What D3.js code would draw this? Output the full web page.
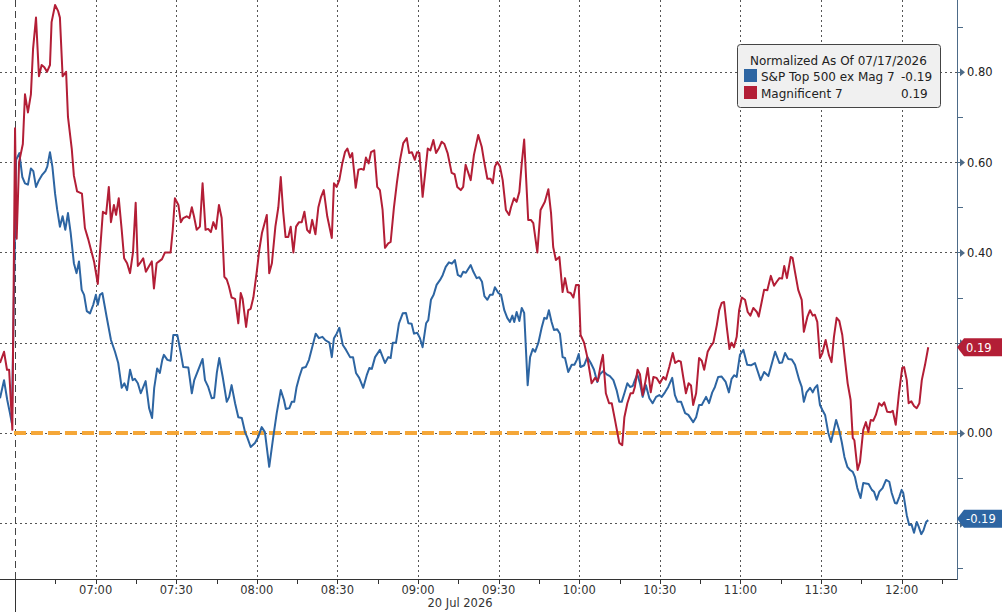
<!DOCTYPE html>
<html>
<head>
<meta charset="utf-8">
<script src="https://cdn.jsdelivr.net/npm/d3@7"></script>
<style>
  html, body { margin: 0; padding: 0; background: #fff; }
  svg { display: block; font-family: "DejaVu Sans", sans-serif; }
</style>
</head>
<body>
<svg id="chart" width="1002" height="612"></svg>
<script>
// ---- Dados: [minutos desde 06:00, valor normalizado]
const spxExMag7 = [
  [24.4,0.077],[25.9,0.117],[27.1,0.073],[28.1,0.044],[28.8,0.022],[30.4,0.605],[31.6,0.62],[32.7,0.567],[33.7,0.553],[34.8,0.55],
  [35.9,0.586],[36.8,0.58],[37.8,0.545],[38.9,0.56],[40.0,0.571],[41.3,0.58],[42.0,0.59],[43.0,0.622],[43.9,0.59],[44.9,0.53],
  [45.7,0.494],[46.7,0.457],[47.7,0.48],[48.7,0.45],[49.7,0.487],[50.7,0.443],[51.9,0.376],[52.9,0.354],[53.8,0.38],[54.8,0.317],
  [55.7,0.306],[56.7,0.27],[57.9,0.265],[59.1,0.284],[60.1,0.306],[60.8,0.284],[61.6,0.306],[62.5,0.31],[64.1,0.257],[65.7,0.206],
  [67.2,0.18],[68.4,0.155],[69.7,0.10],[70.7,0.11],[71.7,0.095],[72.8,0.14],[73.8,0.117],[74.6,0.12],[75.7,0.11],[76.8,0.088],
  [78.6,0.115],[79.9,0.055],[81.0,0.033],[81.8,0.10],[82.9,0.143],[83.9,0.133],[84.8,0.162],[85.4,0.173],[86.7,0.162],[87.9,0.16],
  [88.9,0.217],[90.4,0.217],[91.7,0.177],[92.6,0.146],[94.5,0.145],[95.8,0.088],[96.7,0.117],[98.2,0.14],[99.8,0.164],[100.7,0.117],
  [101.9,0.102],[103.2,0.077],[104.1,0.078],[105.1,0.133],[106.0,0.166],[107.3,0.124],[108.8,0.069],[109.7,0.08],[110.6,0.106],[111.9,0.066],
  [113.1,0.035],[114.4,0.033],[115.6,0.002],[116.4,-0.009],[117.7,-0.031],[119.3,-0.022],[120.5,-0.009],[121.8,0.013],[123.0,0.002],[124.6,-0.075],
  [126.1,-0.009],[127.4,0.044],[128.9,0.095],[130.1,0.073],[130.8,0.053],[132.1,0.055],[133.0,0.069],[133.9,0.069],[134.8,0.102],[135.8,0.124],
  [136.9,0.144],[138.2,0.146],[139.4,0.162],[140.6,0.19],[141.9,0.22],[143.1,0.21],[144.4,0.213],[145.4,0.206],[147.0,0.20],[147.9,0.168],
  [148.7,0.21],[149.7,0.22],[150.7,0.233],[152.0,0.195],[153.2,0.184],[154.7,0.168],[155.8,0.168],[156.9,0.133],[158.1,0.122],[159.6,0.10],
  [160.9,0.128],[161.9,0.144],[162.8,0.142],[164.0,0.168],[165.8,0.184],[167.7,0.155],[168.9,0.168],[169.8,0.166],[170.6,0.20],[171.8,0.20],
  [172.9,0.243],[174.3,0.265],[175.5,0.266],[176.4,0.243],[177.6,0.242],[178.5,0.22],[179.7,0.222],[180.7,0.21],[181.7,0.19],[183.0,0.243],
  [183.8,0.25],[184.8,0.295],[185.8,0.306],[186.9,0.328],[188.2,0.339],[189.2,0.35],[190.3,0.368],[191.5,0.378],[192.6,0.375],[193.7,0.383],
  [194.8,0.35],[195.9,0.346],[196.8,0.357],[197.8,0.355],[199.6,0.372],[200.6,0.357],[201.8,0.343],[202.8,0.345],[203.8,0.335],[204.7,0.303],
  [205.8,0.295],[206.8,0.306],[207.8,0.306],[208.6,0.323],[209.9,0.31],[210.9,0.306],[212.1,0.272],[213.2,0.255],[214.2,0.246],[215.1,0.26],
  [215.8,0.246],[216.7,0.268],[217.7,0.248],[218.6,0.277],[219.5,0.266],[220.8,0.106],[221.7,0.168],[222.7,0.186],[223.6,0.18],[224.8,0.20],
  [226.0,0.233],[227.0,0.255],[227.9,0.253],[228.7,0.272],[229.7,0.246],[230.6,0.228],[231.8,0.23],[232.8,0.22],[233.8,0.168],[234.7,0.166],
  [235.9,0.135],[237.2,0.151],[238.2,0.151],[239.1,0.162],[239.8,0.175],[240.5,0.146],[241.8,0.15],[243.0,0.168],[244.3,0.155],[245.5,0.14],
  [246.7,0.113],[247.7,0.13],[248.9,0.137],[250.2,0.13],[251.4,0.126],[252.7,0.117],[253.9,0.095],[254.9,0.069],[255.8,0.069],[256.8,0.088],
  [257.9,0.11],[258.9,0.102],[259.9,0.104],[260.7,0.117],[261.6,0.13],[262.6,0.11],[263.6,0.08],[264.8,0.106],[266.1,0.077],[267.3,0.066],
  [268.6,0.08],[269.8,0.084],[270.7,0.08],[271.9,0.09],[273.1,0.102],[274.6,0.122],[275.6,0.084],[276.6,0.069],[277.9,0.069],[279.4,0.044],
  [280.6,0.04],[282.4,0.024],[283.5,0.035],[284.6,0.062],[285.6,0.062],[287.2,0.08],[288.3,0.066],[289.5,0.09],[290.5,0.102],[291.7,0.124],
  [293.0,0.125],[294.5,0.113],[295.7,0.09],[296.7,0.12],[297.7,0.128],[298.6,0.124],[299.8,0.173],[301.1,0.184],[302.5,0.151],[303.9,0.15],
  [305.4,0.155],[307.5,0.117],[308.8,0.135],[310.4,0.126],[312.9,0.18],[314.5,0.155],[315.5,0.156],[316.6,0.177],[317.8,0.164],[319.1,0.163],
  [320.3,0.151],[321.9,0.117],[322.8,0.102],[323.6,0.069],[324.6,0.09],[325.9,0.10],[326.9,0.09],[327.7,0.10],[328.6,0.106],[329.6,0.062],
  [330.5,0.051],[331.5,0.04],[332.7,0.0],[333.7,-0.02],[334.6,0.002],[335.6,0.029],[336.7,0.007],[337.7,-0.02],[338.7,-0.053],[339.8,-0.075],
  [340.8,-0.082],[341.8,-0.086],[342.6,-0.097],[343.5,-0.122],[344.7,-0.144],[345.7,-0.111],[346.7,-0.112],[347.7,-0.113],[348.9,-0.126],[349.7,-0.13],
  [350.7,-0.148],[351.7,-0.13],[352.9,-0.122],[354.2,-0.104],[355.4,-0.108],[356.3,-0.133],[357.5,-0.155],[358.2,-0.156],[359.1,-0.142],[360.0,-0.126],
  [360.6,-0.133],[361.9,-0.182],[362.8,-0.204],[363.7,-0.203],[364.6,-0.221],[365.6,-0.197],[366.3,-0.207],[367.3,-0.224],[368.1,-0.216],[369.1,-0.197],
  [369.9,-0.193]
];

const magnificent7 = [
  [24.4,0.155],[25.9,0.18],[27.0,0.14],[27.8,0.14],[29.0,0.007],[30.0,0.675],[30.6,0.43],[31.5,0.60],[32.9,0.64],[33.7,0.75],
  [34.8,0.71],[35.9,0.75],[36.7,0.85],[37.8,0.92],[38.9,0.79],[39.9,0.815],[40.9,0.81],[41.9,0.80],[43.0,0.815],[43.6,0.91],
  [44.9,0.948],[46.0,0.935],[46.7,0.92],[47.7,0.79],[49.0,0.80],[49.7,0.70],[51.1,0.63],[51.9,0.57],[53.1,0.535],[54.9,0.53],
  [56.0,0.454],[57.2,0.43],[58.3,0.405],[59.4,0.38],[60.8,0.33],[61.6,0.40],[62.7,0.49],[63.9,0.485],[64.9,0.545],[65.7,0.467],
  [66.8,0.505],[67.6,0.483],[68.6,0.52],[69.7,0.45],[70.6,0.387],[71.7,0.376],[72.8,0.354],[73.9,0.40],[74.9,0.51],[75.7,0.37],
  [76.5,0.376],[77.7,0.387],[78.7,0.357],[79.9,0.37],[80.9,0.38],[81.7,0.32],[82.7,0.376],[83.6,0.38],[84.7,0.385],[85.8,0.40],
  [86.7,0.40],[87.9,0.40],[88.7,0.45],[89.5,0.52],[90.8,0.505],[91.7,0.467],[92.6,0.476],[93.9,0.48],[94.9,0.476],[95.8,0.50],
  [96.6,0.48],[97.6,0.45],[98.8,0.457],[99.8,0.553],[100.9,0.45],[101.9,0.452],[102.9,0.445],[103.8,0.467],[104.8,0.452],[105.9,0.505],
  [106.9,0.476],[107.9,0.346],[108.8,0.34],[109.6,0.325],[110.6,0.30],[111.9,0.297],[113.1,0.243],[114.0,0.31],[114.7,0.297],[116.0,0.235],
  [116.8,0.272],[117.7,0.275],[118.7,0.30],[119.9,0.354],[120.9,0.405],[121.9,0.443],[123.7,0.483],[124.6,0.354],[125.6,0.376],[126.9,0.457],
  [128.0,0.50],[128.9,0.567],[129.8,0.49],[130.7,0.434],[131.7,0.434],[132.6,0.457],[133.6,0.40],[134.6,0.457],[135.7,0.467],[136.7,0.467],
  [137.7,0.49],[138.7,0.45],[139.7,0.443],[140.6,0.472],[141.8,0.44],[142.9,0.50],[143.9,0.523],[144.9,0.538],[146.2,0.48],[147.9,0.432],
  [148.7,0.553],[149.7,0.545],[150.7,0.56],[151.8,0.597],[152.8,0.622],[153.7,0.63],[154.7,0.61],[155.5,0.62],[156.8,0.543],[157.8,0.583],
  [158.8,0.585],[159.8,0.583],[160.6,0.61],[161.6,0.597],[162.5,0.622],[163.7,0.626],[164.8,0.545],[165.8,0.538],[166.8,0.494],[167.7,0.41],
  [168.9,0.42],[169.8,0.423],[171.0,0.498],[172.1,0.553],[173.3,0.605],[174.5,0.642],[175.8,0.653],[176.7,0.62],[177.7,0.622],[178.8,0.605],
  [179.6,0.622],[180.5,0.62],[181.7,0.523],[182.7,0.578],[183.6,0.63],[184.6,0.626],[185.7,0.649],[186.7,0.62],[187.7,0.63],[188.8,0.645],
  [189.8,0.64],[191.0,0.62],[192.5,0.576],[193.6,0.573],[194.6,0.545],[195.9,0.538],[196.8,0.545],[197.7,0.594],[199.6,0.56],[200.8,0.616],
  [202.4,0.66],[203.7,0.634],[204.5,0.605],[205.8,0.563],[207.0,0.563],[207.8,0.553],[208.6,0.59],[209.5,0.60],[210.5,0.59],[211.5,0.56],
  [212.7,0.494],[213.9,0.483],[214.6,0.50],[215.7,0.52],[216.7,0.512],[217.7,0.534],[218.6,0.597],[219.5,0.65],[221.0,0.472],[222.0,0.472],
  [222.9,0.465],[224.4,0.40],[225.6,0.494],[227.2,0.512],[228.5,0.54],[229.5,0.487],[230.3,0.412],[231.3,0.383],[232.6,0.39],[233.8,0.312],
  [234.7,0.343],[235.7,0.312],[236.8,0.31],[237.8,0.30],[238.8,0.328],[239.8,0.328],[240.5,0.217],[241.8,0.20],[243.0,0.168],[244.6,0.11],
  [245.9,0.122],[246.9,0.115],[248.1,0.155],[248.8,0.173],[249.9,0.088],[251.1,0.066],[252.1,0.066],[253.3,0.029],[254.9,-0.022],[256.0,-0.027],
  [256.8,0.035],[257.9,0.066],[259.1,0.088],[260.0,0.088],[260.7,0.102],[261.7,0.14],[262.6,0.13],[263.6,0.084],[264.5,0.11],[265.5,0.144],
  [266.6,0.09],[267.6,0.124],[268.8,0.122],[270.0,0.11],[271.3,0.124],[272.2,0.118],[273.5,0.146],[274.8,0.177],[275.7,0.155],[276.9,0.16],
  [277.8,0.158],[278.7,0.124],[279.7,0.088],[280.7,0.11],[281.6,0.105],[282.4,0.062],[283.5,0.088],[284.6,0.166],[285.6,0.16],[286.5,0.14],
  [287.8,0.18],[288.7,0.19],[289.9,0.20],[291.2,0.239],[292.1,0.272],[293.0,0.288],[293.9,0.29],[294.9,0.235],[295.9,0.186],[296.7,0.20],
  [297.6,0.19],[298.6,0.213],[299.5,0.272],[300.5,0.30],[301.7,0.295],[302.7,0.268],[303.7,0.26],[304.8,0.277],[306.1,0.268],[306.8,0.258],
  [307.9,0.29],[308.8,0.317],[310.0,0.316],[311.3,0.348],[312.5,0.326],[313.5,0.335],[314.5,0.343],[315.5,0.342],[316.3,0.37],[317.3,0.343],
  [318.7,0.39],[319.4,0.388],[320.3,0.357],[321.5,0.317],[322.8,0.295],[323.6,0.224],[324.9,0.257],[325.9,0.272],[326.9,0.26],[327.7,0.262],
  [328.6,0.246],[329.6,0.166],[330.5,0.177],[331.7,0.206],[332.9,0.173],[333.9,0.157],[334.8,0.213],[335.8,0.255],[336.8,0.248],[337.9,0.217],
  [338.9,0.162],[339.9,0.11],[341.0,0.073],[341.8,-0.011],[342.4,-0.016],[343.6,-0.082],[344.5,-0.064],[345.7,0.007],[346.7,0.024],[347.6,0.002],
  [348.5,0.029],[349.4,0.027],[350.4,0.04],[351.6,0.066],[352.6,0.06],[353.5,0.068],[354.6,0.047],[355.9,0.046],[356.7,0.049],[357.8,0.018],
  [359.0,0.088],[360.2,0.144],[360.9,0.146],[361.9,0.117],[362.6,0.066],[363.6,0.07],[364.6,0.06],[365.6,0.055],[366.6,0.066],[367.5,0.117],
  [368.7,0.151],[369.9,0.19]
];

const legendTitle = 'Normalized As Of 07/17/2026';
const legendNames = ['S&P Top 500 ex Mag 7', 'Magnificent 7'];
const legendValues = [-0.19, 0.19];
const seriesColors = ['#2d65a2', '#b31e36'];
const yGridValues = [-0.2, 0, 0.2, 0.4, 0.6, 0.8];
const dateLabel = '20 Jul 2026';

// ---- Dimensões
const plotW = 957, plotH = 579;
const toTime = m => new Date(2026, 6, 20, 6, 0, 0, 0).getTime() + m * 60000;
const fmt = v => v.toFixed(2);

const svg = d3.select('#chart');
svg.append('rect').attr('width', 1002).attr('height', 612).attr('fill', '#fff');

// ---- Escalas
const x = d3.scaleTime().domain([toTime(24.4), toTime(380.6)]).range([0, plotW]);
const y = d3.scaleLinear().domain([-0.3234, 0.959]).range([plotH, 0]);
const crisp = v => Math.round(v) + 0.5;

// ---- Grade
const g = svg.append('g').attr('id', 'group');

g.selectAll('line.hgrid').data(yGridValues).join('line')
  .attr('class', 'hgrid')
  .attr('x1', 0).attr('x2', plotW)
  .attr('y1', d => crisp(y(d))).attr('y2', d => crisp(y(d)))
  .style('stroke', '#555').style('stroke-width', 1).style('stroke-dasharray', '2,3');

const halfHours = d3.timeMinute.every(30).range(new Date(toTime(60)), new Date(toTime(361)));
g.selectAll('line.vgrid').data(halfHours).join('line')
  .attr('class', 'vgrid')
  .attr('x1', d => crisp(x(d))).attr('x2', d => crisp(x(d)))
  .attr('y1', 0).attr('y2', plotH)
  .style('stroke', '#555').style('stroke-width', 1).style('stroke-dasharray', '2,3');

// ---- Separador de sessão (06:30)
const sessionX = crisp(x(toTime(30)));
g.append('line')
  .attr('x1', sessionX).attr('x2', sessionX).attr('y1', 0).attr('y2', plotH)
  .style('stroke', '#444').style('stroke-width', 1).style('stroke-dasharray', '7,4');
g.append('line')
  .attr('x1', sessionX).attr('x2', sessionX).attr('y1', plotH).attr('y2', 612)
  .style('stroke', '#333').style('stroke-width', 1);

// ---- Linha de referência (0.00)
g.append('line')
  .attr('x1', x(toTime(29.6))).attr('x2', plotW)
  .attr('y1', y(0)).attr('y2', y(0))
  .style('stroke', '#f5a738').style('stroke-width', 4).style('stroke-dasharray', '12,5');

// ---- Linhas
const line = d3.line().x(d => x(toTime(d[0]))).y(d => y(d[1]));
g.selectAll('path.line').data([spxExMag7, magnificent7]).join('path')
  .attr('class', 'line')
  .attr('d', line)
  .style('fill', 'none')
  .style('stroke', (d, i) => seriesColors[i])
  .style('stroke-width', 2)
  .style('stroke-linejoin', 'round');

// ---- Eixo X
const axisX = svg.append('g').attr('id', 'axisX');
axisX.append('line')
  .attr('x1', 0).attr('x2', plotW).attr('y1', plotH + 0.5).attr('y2', plotH + 0.5)
  .style('stroke', '#333');
const quarterHours = d3.timeMinute.every(15).range(new Date(toTime(45)), new Date(toTime(376)));
axisX.selectAll('line.tick').data(quarterHours).join('line')
  .attr('class', 'tick')
  .attr('x1', d => crisp(x(d))).attr('x2', d => crisp(x(d)))
  .attr('y1', plotH).attr('y2', plotH + 5)
  .style('stroke', '#333');
axisX.selectAll('text.tick').data(halfHours).join('text')
  .attr('class', 'tick')
  .attr('x', d => x(d)).attr('y', plotH + 15)
  .attr('text-anchor', 'middle')
  .style('font-size', '11.5px').style('fill', '#333')
  .text(d3.timeFormat('%H:%M'));
axisX.append('text')
  .attr('x', 460).attr('y', 607)
  .attr('text-anchor', 'middle')
  .style('font-size', '11.5px').style('fill', '#333')
  .text(dateLabel);

// ---- Eixo Y (direita)
const axisColor = '#4d6b88';
const axisY = svg.append('g').attr('id', 'axisY');
axisY.append('line')
  .attr('x1', plotW + 0.5).attr('x2', plotW + 0.5).attr('y1', 0).attr('y2', plotH + 1)
  .style('stroke', axisColor);
const yTicks = d3.range(-3, 10).map(k => k / 10);
axisY.selectAll('line.tick').data(yTicks).join('line')
  .attr('class', 'tick')
  .attr('x1', plotW).attr('x2', plotW + 6)
  .attr('y1', d => crisp(y(d))).attr('y2', d => crisp(y(d)))
  .style('stroke', axisColor);
axisY.selectAll('path.arrow').data(yGridValues).join('path')
  .attr('class', 'arrow')
  .attr('d', d => `M${plotW + 3},${y(d) - 3.5}L${plotW + 8},${y(d) + 0.5}L${plotW + 3},${y(d) + 4.5}Z`)
  .style('fill', axisColor);
// rótulos encobertos pelas etiquetas de último valor ficam de fora
const visibleLabels = yGridValues.filter(v => legendValues.every(t => Math.abs(t - v) > 0.05));
axisY.selectAll('text.tick').data(visibleLabels).join('text')
  .attr('class', 'tick')
  .attr('x', plotW + 10).attr('y', d => y(d) + 4.5)
  .style('font-size', '11.5px').style('fill', '#222')
  .text(fmt);

// ---- Etiquetas de último valor
const tags = svg.append('g').attr('id', 'tags');
tags.selectAll('path').data(legendValues).join('path')
  .attr('d', d => {
    const c = y(d);
    return `M${plotW},${c}L${plotW + 7},${c - 9}L1002,${c - 9}L1002,${c + 9}L${plotW + 7},${c + 9}Z`;
  })
  .style('fill', (d, i) => seriesColors[i]);
tags.selectAll('text').data(legendValues).join('text')
  .attr('x', plotW + 9).attr('y', d => y(d) + 4.5)
  .style('font-size', '11.5px').style('fill', '#fff')
  .text(fmt);

// ---- Legenda
const legend = svg.append('g').attr('id', 'legend').attr('transform', 'translate(737, 44)');
legend.append('rect')
  .attr('x', 0.5).attr('y', 0.5).attr('width', 203).attr('height', 63).attr('rx', 3)
  .style('fill', '#f0f0f0').style('stroke', '#444');
legend.append('text')
  .attr('x', 13).attr('y', 21)
  .style('font-size', '12px').style('fill', '#222')
  .text(legendTitle);
const rows = legend.selectAll('g.row').data(legendNames).join('g')
  .attr('class', 'row')
  .attr('transform', (d, i) => `translate(0, ${25 + i * 17})`);
rows.append('rect')
  .attr('x', 7).attr('y', 0).attr('width', 13).attr('height', 13)
  .style('fill', (d, i) => seriesColors[i]);
rows.append('text')
  .attr('x', 24).attr('y', 11.5)
  .style('font-size', '12px').style('fill', '#222')
  .text(d => d);
rows.append('text')
  .attr('x', 164).attr('y', 11.5)
  .style('font-size', '12px').style('fill', '#222')
  .text((d, i) => fmt(legendValues[i]));
</script>
</body>
</html>
